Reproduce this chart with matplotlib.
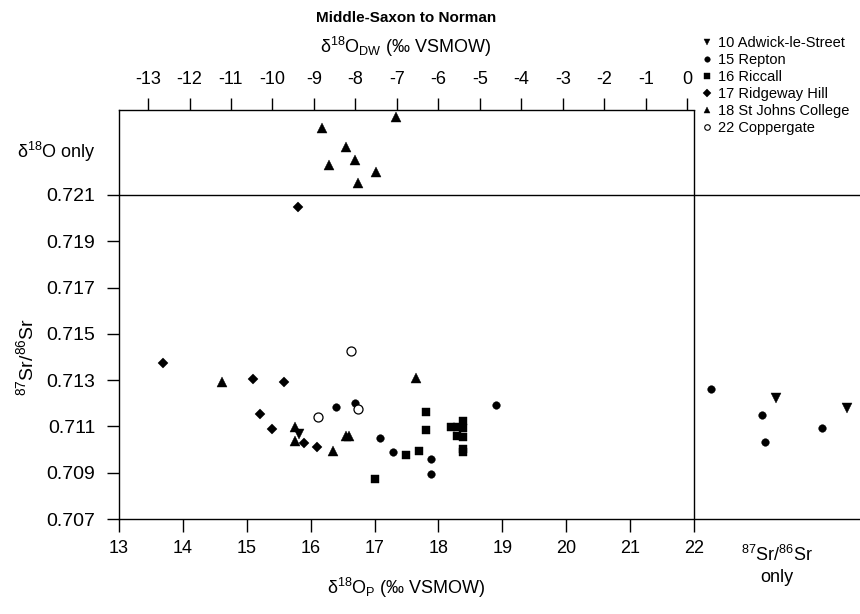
import matplotlib
matplotlib.use("Agg")
import matplotlib.pyplot as plt
from matplotlib.lines import Line2D

plt.rcParams["font.family"] = ["Liberation Sans", "DejaVu Sans"]

# site data: x = d18O phosphate (permil VSMOW), y = 87Sr/86Sr
adwick_x = [15.81]
adwick_y = [0.71067]
repton_x = [16.39, 16.69, 17.09, 17.29, 17.89, 17.89, 18.90]
repton_y = [0.71183, 0.71200, 0.71050, 0.70990, 0.70959, 0.70896, 0.71193]
riccall_x = [17.80, 17.80, 18.20, 18.29, 18.39, 18.39, 18.29, 18.39, 18.39, 18.39, 17.50, 17.70, 17.00]
riccall_y = [0.71164, 0.71085, 0.71096, 0.71096, 0.71125, 0.71092, 0.71059, 0.71053, 0.71001, 0.70990,
             0.70978, 0.70994, 0.70873]
ridgeway_x = [13.69, 15.10, 15.59, 15.20, 15.39, 15.90, 16.10]
ridgeway_y = [0.71376, 0.71305, 0.71292, 0.71154, 0.71088, 0.71030, 0.71012]
stjohns_x = [14.61, 15.76, 15.75, 16.35, 16.55, 16.60, 17.65]
stjohns_y = [0.71293, 0.71096, 0.71038, 0.70995, 0.71059, 0.71057, 0.71309]
coppergate_x = [16.63, 16.74, 16.11]
coppergate_y = [0.71425, 0.71174, 0.71142]

# d18O only (plotted in the upper band)
ridgeway_o_x = [15.80]
ridgeway_o_y = [0.72050]
stjohns_o_x = [17.34, 16.18, 16.55, 16.69, 16.28, 17.03, 16.74]
stjohns_o_y = [0.72436, 0.72391, 0.72309, 0.72251, 0.72229, 0.72198, 0.72151]

# 87Sr/86Sr only (plotted in the right band)
adwick_sr_x = [23.29, 24.40]
adwick_sr_y = [0.71224, 0.71178]
repton_sr_x = [22.26, 23.06, 23.11, 24.01]
repton_sr_y = [0.71263, 0.71148, 0.71033, 0.71095]

x_ticks = [13, 14, 15, 16, 17, 18, 19, 20, 21, 22]
y_ticks = [0.707, 0.709, 0.711, 0.713, 0.715, 0.717, 0.719, 0.721]
dw_ticks = [-13, -12, -11, -10, -9, -8, -7, -6, -5, -4, -3, -2, -1, 0]

W, H = 860, 614
fig = plt.figure(figsize=(W / 100, H / 100), dpi=100)
ax = fig.add_axes([119 / W, 1 - 519 / H, (W - 119) / W, (519 - 110) / H])

ms_c, ms_t, ms_s, ms_d = 5.5, 7.5, 5.5, 5.5
series = [
    (adwick_x + adwick_sr_x, adwick_y + adwick_sr_y, "v", ms_t, "black"),
    (repton_x + repton_sr_x, repton_y + repton_sr_y, "o", ms_c, "black"),
    (riccall_x, riccall_y, "s", ms_s, "black"),
    (ridgeway_x + ridgeway_o_x, ridgeway_y + ridgeway_o_y, "D", ms_d, "black"),
    (stjohns_x + stjohns_o_x, stjohns_y + stjohns_o_y, "^", ms_t, "black"),
    (coppergate_x, coppergate_y, "o", 6.5, "white"),
]
for xs, ys, mk, ms, fc in series:
    ax.plot(xs, ys, ls="none", marker=mk, ms=ms, mfc=fc, mec="black", mew=0.9 if fc == "white" else 0.3,
            clip_on=False)

ax.set_xlim(13, 24.6)
ax.set_ylim(0.707, 0.72467)

ax.axhline(0.721, color="black", lw=1)
ax.axvline(22, color="black", lw=1)
ax.spines["right"].set_visible(False)
ax.spines["top"].set_bounds(13, 22)
for s in ["left", "bottom", "top"]:
    ax.spines[s].set_linewidth(1)

ax.set_xticks(x_ticks)
ax.set_xticklabels([str(t) for t in x_ticks])
ax.set_yticks(y_ticks)
ax.set_yticklabels(["%.3f" % t for t in y_ticks])
ax.tick_params(axis="both", direction="out", length=9, width=1, labelsize=13)
ax.tick_params(axis="y", pad=8, labelsize=14)
ax.tick_params(axis="x", pad=6)

sec = ax.secondary_xaxis("top", functions=(lambda x: 1.54 * x - 33.72, lambda d: (d + 33.72) / 1.54))
sec.set_xticks(dw_ticks)
sec.set_xticklabels([str(t) for t in dw_ticks])
sec.spines["top"].set_visible(False)
sec.tick_params(direction="out", length=9, width=1, labelsize=13, pad=7)

fig.text(406 / W, 1 - 18 / H, "Middle-Saxon to Norman", ha="center", va="center", fontsize=11, fontweight="bold")
fig.text(406 / W, 1 - 47 / H, r"δ$^{\mathregular{18}}$O$_{\mathregular{DW}}$ (‰ VSMOW)", ha="center", va="center",
         fontsize=13)
fig.text(406 / W, 1 - 588 / H, r"δ$^{\mathregular{18}}$O$_{\mathregular{P}}$ (‰ VSMOW)", ha="center", va="center",
         fontsize=13)
fig.text(27 / W, 1 - 357 / H, r"$^{\mathregular{87}}$Sr/$^{\mathregular{86}}$Sr", ha="center", va="center",
         rotation=90, fontsize=14)
fig.text(96 / W, 1 - 152 / H, r"δ$^{\mathregular{18}}$O only", ha="right", va="center", fontsize=13)
fig.text(777 / W, 1 - 565 / H, "$^{\\mathregular{87}}$Sr/$^{\\mathregular{86}}$Sr\nonly", ha="center", va="center",
         fontsize=13, multialignment="center", linespacing=1.3)

labels = ["10 Adwick-le-Street", "15 Repton", "16 Riccall", "17 Ridgeway Hill", "18 St Johns College",
          "22 Coppergate"]
markers = ["v", "o", "s", "D", "^", "o"]
faces = ["black", "black", "black", "black", "black", "white"]
handles = [Line2D([], [], ls="none", marker=m, ms=4, mfc=f, mec="black", mew=0.8 if f == "white" else 0.3)
           for m, f in zip(markers, faces)]
fig.legend(handles, labels, loc="upper left", bbox_to_anchor=(701 / W, 1 - 36 / H), frameon=False,
           fontsize=10.5, handlelength=0.8, handletextpad=0.4, labelspacing=0.21, borderpad=0,
           borderaxespad=0, numpoints=1)

fig.savefig("out.png", dpi=100)
